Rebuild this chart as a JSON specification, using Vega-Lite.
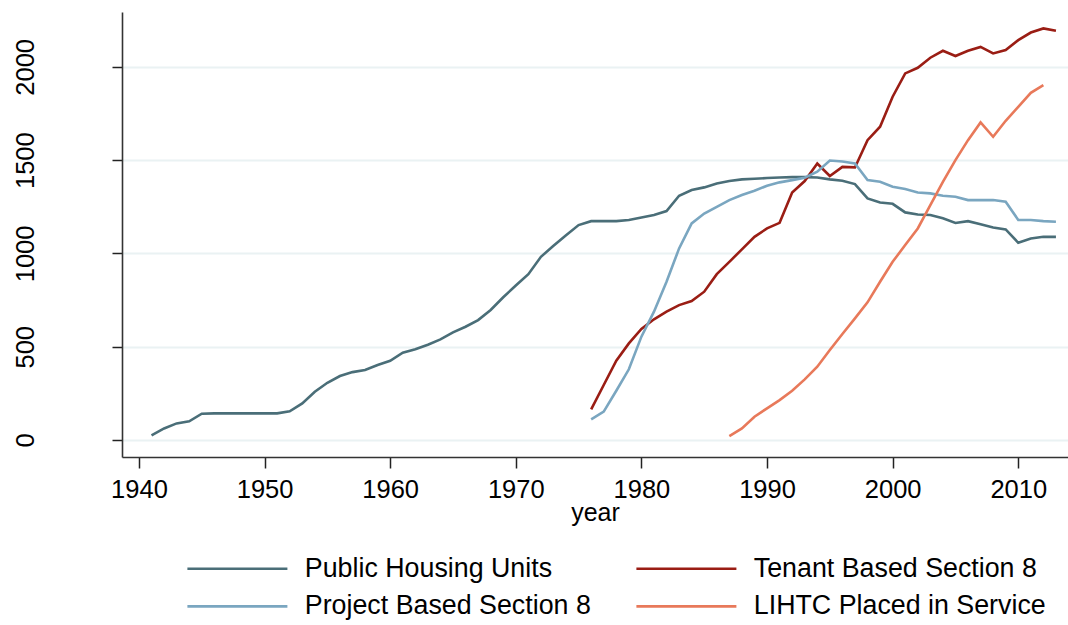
{
  "$schema": "https://vega.github.io/schema/vega-lite/v6.json",
  "width": 946,
  "height": 445,
  "autosize": {"type": "none"},
  "padding": {"left": 122, "top": 12, "right": 0, "bottom": 168},
  "background": "white",
  "title": {"text": "1940-2012", "font": "Liberation Sans", "fontSize": 28, "fontWeight": "normal", "color": "#000000", "anchor": "middle", "frame": "group", "baseline": "alphabetic", "offset": 2},
  "config": {
    "view": {"stroke": null},
    "font": "Liberation Sans"
  },
  "datasets": {
    "units": [
      {"year": 1941, "series": "Public Housing Units", "value": 25},
      {"year": 1942, "series": "Public Housing Units", "value": 62},
      {"year": 1943, "series": "Public Housing Units", "value": 89},
      {"year": 1944, "series": "Public Housing Units", "value": 100},
      {"year": 1945, "series": "Public Housing Units", "value": 141},
      {"year": 1946, "series": "Public Housing Units", "value": 143},
      {"year": 1947, "series": "Public Housing Units", "value": 143},
      {"year": 1948, "series": "Public Housing Units", "value": 143},
      {"year": 1949, "series": "Public Housing Units", "value": 143},
      {"year": 1950, "series": "Public Housing Units", "value": 143},
      {"year": 1951, "series": "Public Housing Units", "value": 143},
      {"year": 1952, "series": "Public Housing Units", "value": 154},
      {"year": 1953, "series": "Public Housing Units", "value": 196},
      {"year": 1954, "series": "Public Housing Units", "value": 259},
      {"year": 1955, "series": "Public Housing Units", "value": 307},
      {"year": 1956, "series": "Public Housing Units", "value": 343},
      {"year": 1957, "series": "Public Housing Units", "value": 364},
      {"year": 1958, "series": "Public Housing Units", "value": 375},
      {"year": 1959, "series": "Public Housing Units", "value": 402},
      {"year": 1960, "series": "Public Housing Units", "value": 425},
      {"year": 1961, "series": "Public Housing Units", "value": 468},
      {"year": 1962, "series": "Public Housing Units", "value": 486},
      {"year": 1963, "series": "Public Housing Units", "value": 511},
      {"year": 1964, "series": "Public Housing Units", "value": 539},
      {"year": 1965, "series": "Public Housing Units", "value": 577},
      {"year": 1966, "series": "Public Housing Units", "value": 607},
      {"year": 1967, "series": "Public Housing Units", "value": 643},
      {"year": 1968, "series": "Public Housing Units", "value": 697},
      {"year": 1969, "series": "Public Housing Units", "value": 765},
      {"year": 1970, "series": "Public Housing Units", "value": 828},
      {"year": 1971, "series": "Public Housing Units", "value": 889},
      {"year": 1972, "series": "Public Housing Units", "value": 982},
      {"year": 1973, "series": "Public Housing Units", "value": 1041},
      {"year": 1974, "series": "Public Housing Units", "value": 1098},
      {"year": 1975, "series": "Public Housing Units", "value": 1152},
      {"year": 1976, "series": "Public Housing Units", "value": 1173},
      {"year": 1977, "series": "Public Housing Units", "value": 1173},
      {"year": 1978, "series": "Public Housing Units", "value": 1173},
      {"year": 1979, "series": "Public Housing Units", "value": 1179},
      {"year": 1980, "series": "Public Housing Units", "value": 1193},
      {"year": 1981, "series": "Public Housing Units", "value": 1206},
      {"year": 1982, "series": "Public Housing Units", "value": 1227},
      {"year": 1983, "series": "Public Housing Units", "value": 1309},
      {"year": 1984, "series": "Public Housing Units", "value": 1340},
      {"year": 1985, "series": "Public Housing Units", "value": 1354},
      {"year": 1986, "series": "Public Housing Units", "value": 1375},
      {"year": 1987, "series": "Public Housing Units", "value": 1388},
      {"year": 1988, "series": "Public Housing Units", "value": 1397},
      {"year": 1989, "series": "Public Housing Units", "value": 1400},
      {"year": 1990, "series": "Public Housing Units", "value": 1404},
      {"year": 1991, "series": "Public Housing Units", "value": 1407},
      {"year": 1992, "series": "Public Housing Units", "value": 1409},
      {"year": 1993, "series": "Public Housing Units", "value": 1409},
      {"year": 1994, "series": "Public Housing Units", "value": 1407},
      {"year": 1995, "series": "Public Housing Units", "value": 1397},
      {"year": 1996, "series": "Public Housing Units", "value": 1390},
      {"year": 1997, "series": "Public Housing Units", "value": 1372},
      {"year": 1998, "series": "Public Housing Units", "value": 1295},
      {"year": 1999, "series": "Public Housing Units", "value": 1273},
      {"year": 2000, "series": "Public Housing Units", "value": 1266},
      {"year": 2001, "series": "Public Housing Units", "value": 1220},
      {"year": 2002, "series": "Public Housing Units", "value": 1209},
      {"year": 2003, "series": "Public Housing Units", "value": 1206},
      {"year": 2004, "series": "Public Housing Units", "value": 1188},
      {"year": 2005, "series": "Public Housing Units", "value": 1163},
      {"year": 2006, "series": "Public Housing Units", "value": 1173},
      {"year": 2007, "series": "Public Housing Units", "value": 1157},
      {"year": 2008, "series": "Public Housing Units", "value": 1139},
      {"year": 2009, "series": "Public Housing Units", "value": 1129},
      {"year": 2010, "series": "Public Housing Units", "value": 1057},
      {"year": 2011, "series": "Public Housing Units", "value": 1080},
      {"year": 2012, "series": "Public Housing Units", "value": 1089},
      {"year": 2013, "series": "Public Housing Units", "value": 1089},

      {"year": 1976, "series": "Tenant Based Section 8", "value": 164},
      {"year": 1977, "series": "Tenant Based Section 8", "value": 295},
      {"year": 1978, "series": "Tenant Based Section 8", "value": 425},
      {"year": 1979, "series": "Tenant Based Section 8", "value": 518},
      {"year": 1980, "series": "Tenant Based Section 8", "value": 595},
      {"year": 1981, "series": "Tenant Based Section 8", "value": 647},
      {"year": 1982, "series": "Tenant Based Section 8", "value": 688},
      {"year": 1983, "series": "Tenant Based Section 8", "value": 723},
      {"year": 1984, "series": "Tenant Based Section 8", "value": 745},
      {"year": 1985, "series": "Tenant Based Section 8", "value": 795},
      {"year": 1986, "series": "Tenant Based Section 8", "value": 889},
      {"year": 1987, "series": "Tenant Based Section 8", "value": 955},
      {"year": 1988, "series": "Tenant Based Section 8", "value": 1022},
      {"year": 1989, "series": "Tenant Based Section 8", "value": 1089},
      {"year": 1990, "series": "Tenant Based Section 8", "value": 1134},
      {"year": 1991, "series": "Tenant Based Section 8", "value": 1164},
      {"year": 1992, "series": "Tenant Based Section 8", "value": 1327},
      {"year": 1993, "series": "Tenant Based Section 8", "value": 1388},
      {"year": 1994, "series": "Tenant Based Section 8", "value": 1482},
      {"year": 1995, "series": "Tenant Based Section 8", "value": 1415},
      {"year": 1996, "series": "Tenant Based Section 8", "value": 1464},
      {"year": 1997, "series": "Tenant Based Section 8", "value": 1461},
      {"year": 1998, "series": "Tenant Based Section 8", "value": 1607},
      {"year": 1999, "series": "Tenant Based Section 8", "value": 1679},
      {"year": 2000, "series": "Tenant Based Section 8", "value": 1840},
      {"year": 2001, "series": "Tenant Based Section 8", "value": 1965},
      {"year": 2002, "series": "Tenant Based Section 8", "value": 1995},
      {"year": 2003, "series": "Tenant Based Section 8", "value": 2049},
      {"year": 2004, "series": "Tenant Based Section 8", "value": 2086},
      {"year": 2005, "series": "Tenant Based Section 8", "value": 2058},
      {"year": 2006, "series": "Tenant Based Section 8", "value": 2086},
      {"year": 2007, "series": "Tenant Based Section 8", "value": 2107},
      {"year": 2008, "series": "Tenant Based Section 8", "value": 2072},
      {"year": 2009, "series": "Tenant Based Section 8", "value": 2090},
      {"year": 2010, "series": "Tenant Based Section 8", "value": 2143},
      {"year": 2011, "series": "Tenant Based Section 8", "value": 2184},
      {"year": 2012, "series": "Tenant Based Section 8", "value": 2206},
      {"year": 2013, "series": "Tenant Based Section 8", "value": 2193},

      {"year": 1976, "series": "Project Based Section 8", "value": 111},
      {"year": 1977, "series": "Project Based Section 8", "value": 152},
      {"year": 1978, "series": "Project Based Section 8", "value": 264},
      {"year": 1979, "series": "Project Based Section 8", "value": 379},
      {"year": 1980, "series": "Project Based Section 8", "value": 554},
      {"year": 1981, "series": "Project Based Section 8", "value": 688},
      {"year": 1982, "series": "Project Based Section 8", "value": 848},
      {"year": 1983, "series": "Project Based Section 8", "value": 1027},
      {"year": 1984, "series": "Project Based Section 8", "value": 1161},
      {"year": 1985, "series": "Project Based Section 8", "value": 1214},
      {"year": 1986, "series": "Project Based Section 8", "value": 1250},
      {"year": 1987, "series": "Project Based Section 8", "value": 1286},
      {"year": 1988, "series": "Project Based Section 8", "value": 1313},
      {"year": 1989, "series": "Project Based Section 8", "value": 1336},
      {"year": 1990, "series": "Project Based Section 8", "value": 1363},
      {"year": 1991, "series": "Project Based Section 8", "value": 1381},
      {"year": 1992, "series": "Project Based Section 8", "value": 1393},
      {"year": 1993, "series": "Project Based Section 8", "value": 1406},
      {"year": 1994, "series": "Project Based Section 8", "value": 1438},
      {"year": 1995, "series": "Project Based Section 8", "value": 1498},
      {"year": 1996, "series": "Project Based Section 8", "value": 1493},
      {"year": 1997, "series": "Project Based Section 8", "value": 1482},
      {"year": 1998, "series": "Project Based Section 8", "value": 1393},
      {"year": 1999, "series": "Project Based Section 8", "value": 1384},
      {"year": 2000, "series": "Project Based Section 8", "value": 1357},
      {"year": 2001, "series": "Project Based Section 8", "value": 1345},
      {"year": 2002, "series": "Project Based Section 8", "value": 1327},
      {"year": 2003, "series": "Project Based Section 8", "value": 1322},
      {"year": 2004, "series": "Project Based Section 8", "value": 1309},
      {"year": 2005, "series": "Project Based Section 8", "value": 1304},
      {"year": 2006, "series": "Project Based Section 8", "value": 1286},
      {"year": 2007, "series": "Project Based Section 8", "value": 1286},
      {"year": 2008, "series": "Project Based Section 8", "value": 1286},
      {"year": 2009, "series": "Project Based Section 8", "value": 1277},
      {"year": 2010, "series": "Project Based Section 8", "value": 1179},
      {"year": 2011, "series": "Project Based Section 8", "value": 1179},
      {"year": 2012, "series": "Project Based Section 8", "value": 1173},
      {"year": 2013, "series": "Project Based Section 8", "value": 1170},

      {"year": 1987, "series": "LIHTC Placed in Service", "value": 21},
      {"year": 1988, "series": "LIHTC Placed in Service", "value": 62},
      {"year": 1989, "series": "LIHTC Placed in Service", "value": 125},
      {"year": 1990, "series": "LIHTC Placed in Service", "value": 170},
      {"year": 1991, "series": "LIHTC Placed in Service", "value": 214},
      {"year": 1992, "series": "LIHTC Placed in Service", "value": 264},
      {"year": 1993, "series": "LIHTC Placed in Service", "value": 325},
      {"year": 1994, "series": "LIHTC Placed in Service", "value": 393},
      {"year": 1995, "series": "LIHTC Placed in Service", "value": 482},
      {"year": 1996, "series": "LIHTC Placed in Service", "value": 568},
      {"year": 1997, "series": "LIHTC Placed in Service", "value": 652},
      {"year": 1998, "series": "LIHTC Placed in Service", "value": 738},
      {"year": 1999, "series": "LIHTC Placed in Service", "value": 848},
      {"year": 2000, "series": "LIHTC Placed in Service", "value": 955},
      {"year": 2001, "series": "LIHTC Placed in Service", "value": 1045},
      {"year": 2002, "series": "LIHTC Placed in Service", "value": 1134},
      {"year": 2003, "series": "LIHTC Placed in Service", "value": 1259},
      {"year": 2004, "series": "LIHTC Placed in Service", "value": 1384},
      {"year": 2005, "series": "LIHTC Placed in Service", "value": 1500},
      {"year": 2006, "series": "LIHTC Placed in Service", "value": 1607},
      {"year": 2007, "series": "LIHTC Placed in Service", "value": 1702},
      {"year": 2008, "series": "LIHTC Placed in Service", "value": 1625},
      {"year": 2009, "series": "LIHTC Placed in Service", "value": 1711},
      {"year": 2010, "series": "LIHTC Placed in Service", "value": 1786},
      {"year": 2011, "series": "LIHTC Placed in Service", "value": 1861},
      {"year": 2012, "series": "LIHTC Placed in Service", "value": 1902}
    ]
  },
  "data": {"name": "units"},
  "mark": {"type": "line", "strokeWidth": 2.6, "strokeJoin": "miter", "clip": true},
  "encoding": {
    "x": {
      "field": "year",
      "type": "quantitative",
      "scale": {"domain": [1938.65, 2013.96], "nice": false, "zero": false},
      "axis": {
        "title": "year",
        "values": [1940, 1950, 1960, 1970, 1980, 1990, 2000, 2010],
        "format": "d",
        "grid": false,
        "domainColor": "#333333",
        "domainWidth": 1.6,
        "tickColor": "#222222",
        "tickWidth": 1.5,
        "tickSize": 11,
        "labelFont": "Liberation Sans",
        "labelFontSize": 25.5,
        "labelColor": "#000000",
        "labelPadding": 9,
        "labelFlush": false,
        "titleFont": "Liberation Sans",
        "titleFontSize": 25,
        "titleFontWeight": "normal",
        "titleColor": "#000000",
        "titleBaseline": "alphabetic",
        "titleY": 63
      }
    },
    "y": {
      "field": "value",
      "type": "quantitative",
      "scale": {"domain": [-91, 2294], "nice": false, "zero": false},
      "axis": {
        "title": null,
        "values": [0, 500, 1000, 1500, 2000],
        "format": "d",
        "grid": true,
        "gridColor": "#eaf2f3",
        "gridWidth": 2,
        "domainColor": "#333333",
        "domainWidth": 1.6,
        "tickColor": "#222222",
        "tickWidth": 1.5,
        "tickSize": 10,
        "labelFont": "Liberation Sans",
        "labelFontSize": 25.5,
        "labelColor": "#000000",
        "labelAngle": -90,
        "labelAlign": "center",
        "labelBaseline": "alphabetic",
        "labelPadding": 79,
        "labelFlush": false,
        "encode": {
          "labels": {
            "dy": {"value": {"expr": "datum.value == 0 ? 66 : (datum.value < 1000 ? 22 : 0)"}}
          }
        }
      }
    },
    "color": {
      "field": "series",
      "type": "nominal",
      "scale": {
        "domain": ["Public Housing Units", "Tenant Based Section 8", "Project Based Section 8", "LIHTC Placed in Service"],
        "range": ["#4a6e78", "#9a1d14", "#7aa6c0", "#e8795a"]
      },
      "legend": {
        "title": null,
        "orient": "none",
        "legendX": 102,
        "legendY": 543,
        "direction": "horizontal",
        "columns": 2,
        "columnPadding": 40,
        "rowPadding": 10,
        "symbolType": "M-5,0H5",
        "symbolSize": 400,
        "symbolStrokeWidth": 2.6,
        "labelFont": "Liberation Sans",
        "labelFontSize": 26.8,
        "labelColor": "#000000",
        "labelOffset": 54,
        "labelLimit": 500
      }
    }
  }
}
